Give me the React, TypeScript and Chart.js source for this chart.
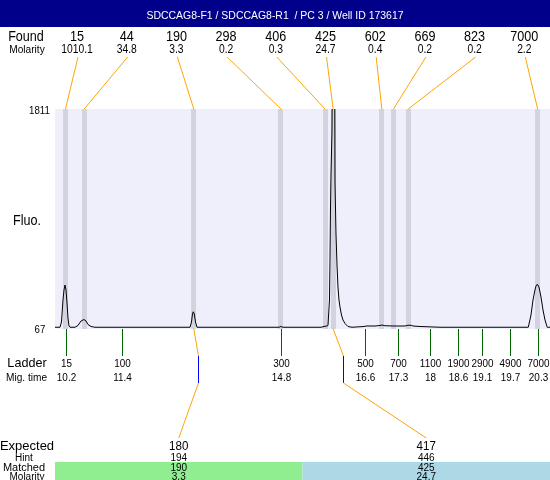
import React, { useEffect, useRef } from "react";
import { Chart, registerables } from "chart.js";
Chart.register(...registerables);

const title = "SDCCAG8-F1 / SDCCAG8-R1  / PC 3 / Well ID 173617";

const foundSizes = ["15", "44", "190", "298", "406", "425", "602", "669", "823", "7000"];
const foundMolarity = ["1010.1", "34.8", "3.3", "0.2", "0.3", "24.7", "0.4", "0.2", "0.2", "2.2"];
const foundTimes = [10.185, 10.585, 12.932, 14.799, 15.742, 15.917, 16.958, 17.208, 17.524, 20.296];

const ladderSizes = ["15", "100", "300", "500", "700", "1100", "1900", "2900", "4900", "7000"];
const ladderTimes = [10.2, 11.4, 14.8, 16.6, 17.3, 18, 18.6, 19.1, 19.7, 20.3];

const expectedSizes = ["180", "417"];
const hintSizes = ["194", "446"];
const hintTimes = [13.02, 16.12];
const matchedSizes = ["190", "425"];
const matchedMolarity = ["3.3", "24.7"];
const matchedFoundIndex = [2, 5];

const fluoTop = 1811;
const fluoBottom = 67;
const fluoFloor = 51;
const timeMin = 9.96;
const timeMax = 20.56;

const traceTimes = [
  9.96, 10.067, 10.099, 10.131, 10.153, 10.174, 10.196, 10.217, 10.238, 10.26, 10.281,
  10.388, 10.452, 10.517, 10.581, 10.624, 10.667, 10.731, 10.817,
  12.851, 12.883, 12.904, 12.921, 12.943, 12.969, 13.001,
  14.757, 14.799, 14.842,
  15.656, 15.699, 15.742, 15.784, 15.806, 15.838, 15.849, 15.859, 15.87, 15.891, 15.898, 15.923, 15.949, 15.953,
  15.956, 15.977, 15.999, 16.02, 16.041, 16.063, 16.095, 16.127, 16.17, 16.234, 16.32,
  16.491, 16.577, 16.62, 16.812, 16.919, 16.962, 17.026, 17.24, 17.455, 17.519, 17.583, 17.626, 17.776, 18.204,
  20.095, 20.153, 20.196, 20.238, 20.26, 20.288, 20.324, 20.367, 20.41, 20.453, 20.495, 20.501, 20.56,
];
const traceFluo = [
  65, 65, 107, 283, 363, 403, 363, 259, 139, 75, 65,
  65, 79, 115, 127, 115, 87, 71, 65,
  65, 107, 171, 189, 171, 107, 65,
  65, 71, 65,
  65, 69, 73, 75, 79, 283, 603, 1003, 1283, 1627, 2000, 2300, 2000, 1627,
  1219, 819, 563, 387, 283, 227, 163, 123, 95, 71, 65,
  69, 71, 75, 75, 79, 83, 77, 75, 75, 81, 81, 75, 71, 65,
  65, 163, 283, 363, 395, 409, 387, 307, 203, 123, 71, 65, 65,
];

const FONT = '"Liberation Sans", Arial, sans-serif';

function txt(
  ctx: CanvasRenderingContext2D,
  s: string,
  x: number,
  y: number,
  size: number,
  sx = 0.9,
  align: CanvasTextAlign = "center",
  color = "#000"
) {
  ctx.save();
  ctx.translate(x, y);
  ctx.scale(sx, 1);
  ctx.font = `${size}px ${FONT}`;
  ctx.textAlign = align;
  ctx.textBaseline = "alphabetic";
  ctx.fillStyle = color;
  ctx.fillText(s, 0, 0);
  ctx.restore();
}

function seg(ctx: CanvasRenderingContext2D, pts: number[][], color: string) {
  ctx.save();
  ctx.strokeStyle = color;
  ctx.lineWidth = 1;
  ctx.beginPath();
  pts.forEach((p, i) => (i === 0 ? ctx.moveTo(p[0], p[1]) : ctx.lineTo(p[0], p[1])));
  ctx.stroke();
  ctx.restore();
}

const bgPlugin = {
  id: "bgBands",
  beforeDatasetsDraw(chart: any) {
    const { ctx, chartArea: a, scales } = chart;
    ctx.save();
    ctx.fillStyle = "#efeffb";
    ctx.fillRect(a.left, a.top, a.right - a.left, a.bottom - a.top);
    ctx.fillStyle = "#d3d3df";
    foundTimes.forEach((t) => {
      const x = scales.x.getPixelForValue(t);
      ctx.fillRect(Math.round(x - 2.5), a.top, 5, a.bottom - a.top);
    });
    ctx.restore();
  },
};

const overlayPlugin = {
  id: "overlay",
  afterDraw(chart: any) {
    const { ctx, chartArea: a, scales } = chart;
    const W = chart.width;
    // title bar
    ctx.save();
    ctx.fillStyle = "#00008b";
    ctx.fillRect(0, 0, W, 27);
    ctx.restore();
    txt(ctx, title, 275, 18.5, 11, 0.95, "center", "#fff");

    // found rows
    txt(ctx, "Found", 26, 41, 14, 0.9);
    txt(ctx, "Molarity", 27, 53, 11, 0.92);
    const slotW = 49.7;
    foundSizes.forEach((s, i) => {
      const cx = 77 + i * slotW;
      txt(ctx, s, cx, 41, 14, 0.9);
      txt(ctx, foundMolarity[i], cx, 53, 12, 0.86);
      const bx = scales.x.getPixelForValue(foundTimes[i]);
      seg(ctx, [[cx + 1, 57], [bx, a.top]], "#ffa500");
    });

    // y labels
    txt(ctx, String(fluoTop), 39.5, 114, 11, 0.88);
    txt(ctx, String(fluoBottom), 40, 333, 11, 0.88);
    txt(ctx, "Fluo.", 27, 225, 14, 0.9);

    // ladder
    txt(ctx, "Ladder", 27, 367, 13, 0.97);
    txt(ctx, "Mig. time", 26.5, 381, 11, 0.92);
    ladderSizes.forEach((s, i) => {
      const x = Math.round(scales.x.getPixelForValue(ladderTimes[i])) + 0.5;
      seg(ctx, [[x, a.bottom], [x, 356]], "#006400");
      txt(ctx, s, x, 367, 11, 0.9);
      txt(ctx, String(ladderTimes[i]), x, 381, 11, 0.9);
    });

    // expected table
    const half = (W - a.left) / 2;
    ctx.save();
    ctx.fillStyle = "#90ee90";
    ctx.fillRect(a.left, 462, half, 18);
    ctx.fillStyle = "#add8e6";
    ctx.fillRect(a.left + half, 462, half, 18);
    ctx.restore();
    txt(ctx, "Expected", 27, 449.5, 13, 1.0);
    txt(ctx, "Hint", 24, 460.5, 10, 1.0);
    txt(ctx, "Matched", 24, 471, 10, 1.1);
    txt(ctx, "Molarity", 27, 479.5, 10, 1.0);
    expectedSizes.forEach((s, i) => {
      const cx = a.left + half * i + half / 2;
      txt(ctx, s, cx, 450, 13, 0.89);
      txt(ctx, hintSizes[i], cx, 460.5, 10, 1.0);
      txt(ctx, matchedSizes[i], cx, 471, 10, 1.0);
      txt(ctx, matchedMolarity[i], cx, 479.5, 10, 1.0);
      const bx = scales.x.getPixelForValue(foundTimes[matchedFoundIndex[i]]);
      const hx = Math.round(scales.x.getPixelForValue(hintTimes[i])) + 0.5;
      seg(ctx, [[bx, a.bottom], [hx, 356]], "#ffa500");
      seg(ctx, [[hx, 356], [hx, 383]], "#0000ff");
      seg(ctx, [[hx, 383], [cx, 438]], "#ffa500");
    });
  },
};

export default function App() {
  const ref = useRef<HTMLCanvasElement | null>(null);
  useEffect(() => {
    if (!ref.current) return;
    const chart = new Chart(ref.current, {
      type: "line",
      data: {
        datasets: [
          {
            data: traceTimes.map((t, i) => ({ x: t, y: traceFluo[i] })),
            borderColor: "#000",
            borderWidth: 1,
            borderDash: [10000, 0],
            pointRadius: 0,
            tension: 0,
            fill: false,
          },
        ],
      },
      options: {
        responsive: false,
        animation: false,
        devicePixelRatio: 1,
        events: [],
        layout: { padding: { left: 55, right: 0, top: 109, bottom: 151 } },
        plugins: { legend: { display: false }, tooltip: { enabled: false }, title: { display: false } },
        scales: {
          x: { type: "linear", min: timeMin, max: timeMax, display: false },
          y: { type: "linear", min: fluoFloor, max: fluoTop, display: false },
        },
      },
      plugins: [bgPlugin, overlayPlugin],
    } as any);
    return () => chart.destroy();
  }, []);
  return (
    <div style={{ position: "absolute", left: 0, top: 0, width: 550, height: 480, background: "#fff" }}>
      <canvas ref={ref} width={550} height={480} style={{ display: "block" }} />
    </div>
  );
}
